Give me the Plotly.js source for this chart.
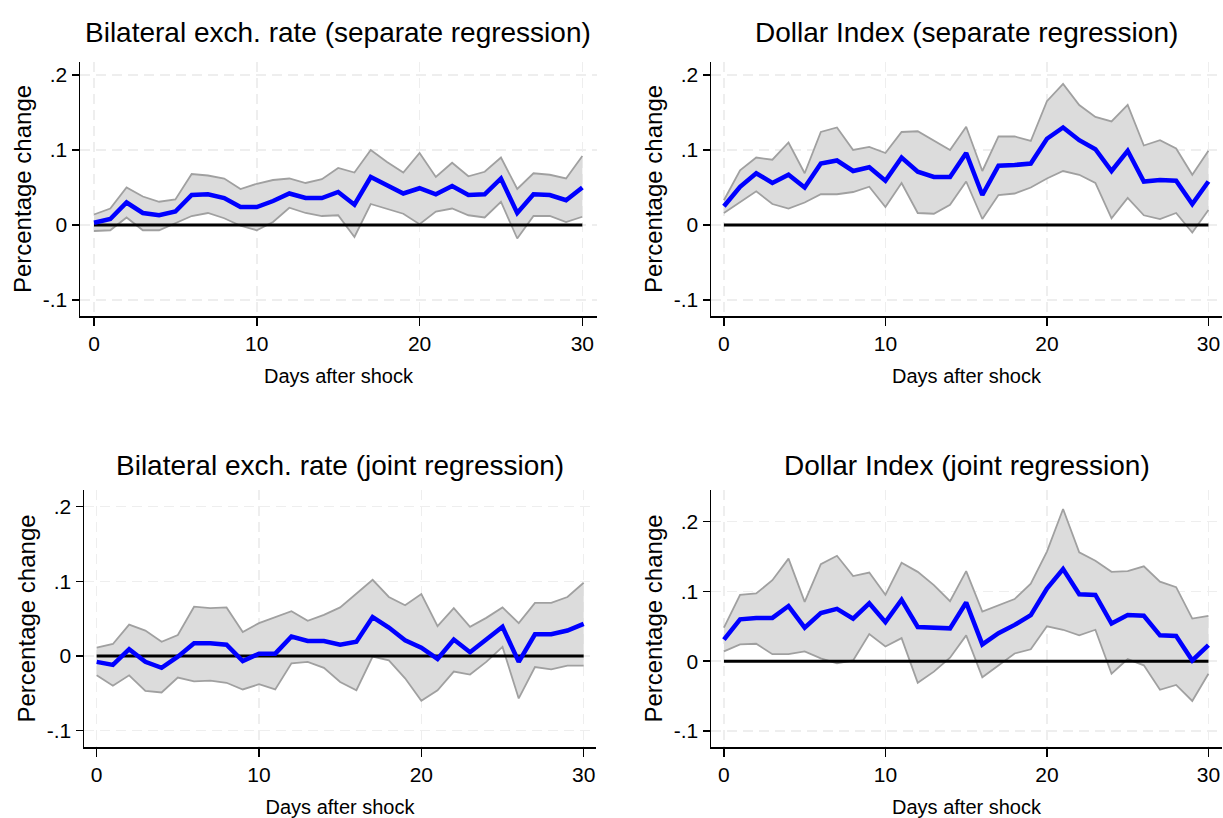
<!DOCTYPE html>
<html>
<head>
<meta charset="utf-8">
<script src="https://cdn.plot.ly/plotly-3.0.1.min.js"></script>
<style>html,body{margin:0;padding:0;background:#fff;}#chart{width:1223px;height:818px;}</style>
</head>
<body>
<div id="chart"></div>
<script>
// ---- data ----
const days = [0,1,2,3,4,5,6,7,8,9,10,11,12,13,14,15,16,17,18,19,20,21,22,23,24,25,26,27,28,29,30];

const panelTitles = [
  "Bilateral exch. rate (separate regression)",
  "Dollar Index (separate regression)",
  "Bilateral exch. rate (joint regression)",
  "Dollar Index (joint regression)"
];
const yTitle = "Percentage change";
const xTitle = "Days after shock";
const yTickVals = [-0.1, 0, 0.1, 0.2];
const yTickText = ["-.1", "0", ".1", ".2"];
const xTickVals = [0, 10, 20, 30];
const xTickText = ["0", "10", "20", "30"];

// Bilateral exch. rate (separate regression)
const blSepEst = [0.003,0.008,0.030,0.016,0.013,0.018,0.040,0.041,0.036,0.024,0.024,0.032,0.042,0.036,0.036,0.044,0.027,0.064,0.053,0.042,0.049,0.041,0.052,0.040,0.041,0.062,0.016,0.041,0.040,0.033,0.050];
const blSepUp  = [0.014,0.022,0.050,0.038,0.031,0.034,0.068,0.066,0.062,0.048,0.055,0.060,0.062,0.056,0.061,0.076,0.070,0.100,0.084,0.070,0.096,0.064,0.083,0.065,0.071,0.090,0.048,0.069,0.067,0.062,0.092];
const blSepLo  = [-0.008,-0.007,0.010,-0.007,-0.007,0.002,0.012,0.016,0.009,-0.001,-0.007,0.004,0.023,0.016,0.012,0.013,-0.016,0.028,0.021,0.015,0.001,0.018,0.022,0.013,0.010,0.031,-0.018,0.012,0.012,0.004,0.011];

// Dollar Index (separate regression)
const dxSepEst = [0.025,0.051,0.069,0.056,0.067,0.050,0.082,0.086,0.072,0.077,0.059,0.090,0.071,0.064,0.064,0.096,0.040,0.079,0.080,0.082,0.115,0.130,0.113,0.101,0.072,0.099,0.058,0.060,0.059,0.028,0.058];
const dxSepUp  = [0.033,0.073,0.090,0.087,0.110,0.069,0.124,0.130,0.100,0.104,0.096,0.124,0.125,0.113,0.100,0.131,0.072,0.118,0.118,0.112,0.165,0.188,0.160,0.144,0.138,0.160,0.106,0.113,0.102,0.067,0.099];
const dxSepLo  = [0.016,0.031,0.045,0.028,0.022,0.030,0.041,0.041,0.044,0.051,0.024,0.056,0.016,0.015,0.027,0.058,0.008,0.040,0.042,0.050,0.062,0.072,0.067,0.056,0.009,0.036,0.013,0.008,0.016,-0.010,0.020];

// Bilateral exch. rate (joint regression)
const blJointEst = [-0.008,-0.012,0.009,-0.008,-0.016,-0.001,0.017,0.017,0.015,-0.007,0.003,0.003,0.026,0.020,0.020,0.015,0.019,0.052,0.038,0.021,0.011,-0.004,0.022,0.005,0.022,0.039,-0.008,0.029,0.029,0.034,0.043];
const blJointUp  = [0.011,0.016,0.042,0.034,0.019,0.028,0.066,0.064,0.065,0.032,0.044,0.052,0.060,0.047,0.055,0.065,0.084,0.102,0.079,0.068,0.083,0.040,0.064,0.039,0.051,0.065,0.044,0.071,0.071,0.079,0.098];
const blJointLo  = [-0.026,-0.040,-0.026,-0.047,-0.049,-0.029,-0.034,-0.033,-0.036,-0.045,-0.038,-0.045,-0.010,-0.008,-0.016,-0.035,-0.046,-0.001,-0.006,-0.030,-0.060,-0.046,-0.021,-0.025,-0.008,0.012,-0.057,-0.015,-0.018,-0.013,-0.013];

// Dollar Index (joint regression)
const dxJointEst = [0.031,0.060,0.062,0.062,0.079,0.048,0.069,0.075,0.061,0.083,0.056,0.088,0.049,0.048,0.047,0.084,0.024,0.040,0.052,0.066,0.104,0.132,0.096,0.095,0.054,0.066,0.065,0.037,0.036,0.001,0.023];
const dxJointUp  = [0.048,0.095,0.097,0.116,0.147,0.085,0.139,0.151,0.122,0.127,0.095,0.141,0.128,0.109,0.086,0.129,0.071,0.080,0.089,0.111,0.157,0.218,0.156,0.144,0.128,0.129,0.136,0.114,0.106,0.061,0.065];
const dxJointLo  = [0.014,0.024,0.025,0.010,0.010,0.014,0.004,-0.003,0.001,0.039,0.021,0.033,-0.031,-0.015,0.005,0.037,-0.023,-0.006,0.011,0.017,0.050,0.045,0.037,0.045,-0.018,0.003,-0.006,-0.041,-0.034,-0.057,-0.018];

// ---- styling / layout ----
const FONT = "'Liberation Sans', Arial, sans-serif";
const panels = [
  {est: blSepEst,   up: blSepUp,   lo: blSepLo,   xa: 'x',  ya: 'y'},
  {est: dxSepEst,   up: dxSepUp,   lo: dxSepLo,   xa: 'x2', ya: 'y2'},
  {est: blJointEst, up: blJointUp, lo: blJointLo, xa: 'x3', ya: 'y3'},
  {est: dxJointEst, up: dxJointUp, lo: dxJointLo, xa: 'x4', ya: 'y4'}
];

const traces = [];
panels.forEach(p => {
  traces.push({x: days, y: p.lo, xaxis: p.xa, yaxis: p.ya, type: 'scatter', mode: 'lines',
    line: {color: '#a0a0a0', width: 1.8}, hoverinfo: 'skip', showlegend: false});
  traces.push({x: days, y: p.up, xaxis: p.xa, yaxis: p.ya, type: 'scatter', mode: 'lines',
    fill: 'tonexty', fillcolor: '#dcdcdc',
    line: {color: '#a0a0a0', width: 1.8}, hoverinfo: 'skip', showlegend: false});
  traces.push({x: [days[0], days[days.length - 1]], y: [0, 0], xaxis: p.xa, yaxis: p.ya,
    type: 'scatter', mode: 'lines', line: {color: '#000000', width: 3}, showlegend: false});
  traces.push({x: days, y: p.est, xaxis: p.xa, yaxis: p.ya, type: 'scatter', mode: 'lines',
    line: {color: '#0000ff', width: 4.5}, showlegend: false});
});

function xAxis(domain, range) {
  return {
    domain: domain, range: range, fixedrange: true,
    tickmode: 'array', tickvals: xTickVals, ticktext: xTickText,
    ticks: 'outside', ticklen: 8, tickwidth: 1.5, tickcolor: '#000',
    showline: true, linecolor: '#000', linewidth: 1.5,
    showgrid: true, gridcolor: '#eeeeee', gridwidth: 1.5, griddash: '10px,6px',
    zeroline: false,
    tickfont: {family: FONT, size: 21, color: '#000'},
    title: {text: xTitle, font: {family: FONT, size: 20, color: '#000'}, standoff: 15},
    automargin: false
  };
}
function yAxis(domain, range, anchor) {
  return {
    domain: domain, range: range, anchor: anchor, fixedrange: true,
    tickmode: 'array', tickvals: yTickVals, ticktext: yTickText,
    ticks: 'outside', ticklen: 7, tickwidth: 1.5, tickcolor: '#000',
    showline: true, linecolor: '#000', linewidth: 1.5,
    showgrid: true, gridcolor: '#eeeeee', gridwidth: 1.5, griddash: '10px,6px',
    zeroline: false,
    tickfont: {family: FONT, size: 21, color: '#000'},
    title: {text: yTitle, font: {family: FONT, size: 24, color: '#000'}, standoff: 4},
    automargin: false
  };
}

const W = 1223, H = 818;
const topDom = [1 - 316 / H, 1 - 62 / H];
const botDom = [1 - 747 / H, 1 - 490 / H];

const layout = {
  width: W, height: H,
  margin: {l: 0, r: 0, t: 0, b: 0},
  paper_bgcolor: '#ffffff', plot_bgcolor: '#ffffff',
  showlegend: false,
  xaxis:  Object.assign(xAxis([80 / W, 597 / W], [-0.86, 30.9]), {anchor: 'y'}),
  yaxis:  yAxis(topDom, [-0.1213, 0.2173], 'x'),
  xaxis2: Object.assign(xAxis([711 / W, 1222 / W], [-0.80, 30.84]), {anchor: 'y2'}),
  yaxis2: yAxis(topDom, [-0.1213, 0.2173], 'x2'),
  xaxis3: Object.assign(xAxis([84 / W, 596 / W], [-0.78, 30.76]), {anchor: 'y3'}),
  yaxis3: yAxis(botDom, [-0.1221, 0.2224], 'x3'),
  xaxis4: Object.assign(xAxis([711 / W, 1222 / W], [-0.80, 30.84]), {anchor: 'y4'}),
  yaxis4: yAxis(botDom, [-0.123, 0.2453], 'x4'),
  annotations: [
    {text: panelTitles[0], x: 338 / W, y: 1 - 33 / H},
    {text: panelTitles[1], x: 966 / W, y: 1 - 33 / H},
    {text: panelTitles[2], x: 340 / W, y: 1 - 465 / H},
    {text: panelTitles[3], x: 967 / W, y: 1 - 465 / H}
  ].map(a => Object.assign(a, {xref: 'paper', yref: 'paper', xanchor: 'center', yanchor: 'middle',
      showarrow: false, font: {family: FONT, size: 28, color: '#000'}}))
};

Plotly.newPlot('chart', traces, layout, {displayModeBar: false, staticPlot: true});
</script>
</body>
</html>
